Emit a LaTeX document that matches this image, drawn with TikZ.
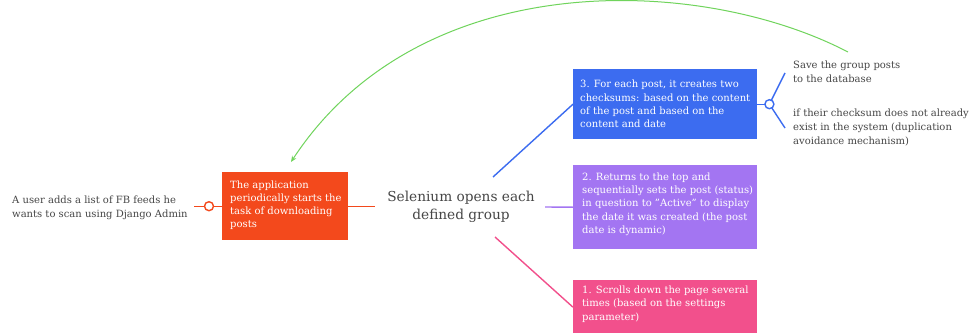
\documentclass[tikz,border=0pt]{standalone}
\usepackage{fontspec}
\setmainfont{DejaVu Serif}
\usetikzlibrary{arrows.meta}
\definecolor{corange}{RGB}{243,73,28}
\definecolor{cblue}{RGB}{60,108,240}
\definecolor{cpurple}{RGB}{163,117,242}
\definecolor{cpink}{RGB}{242,80,140}
\definecolor{cgreen}{RGB}{112,212,92}
\definecolor{ctext}{RGB}{70,70,70}
\begin{document}
\begin{tikzpicture}[x=1pt,y=-1pt,
  boxnode/.style={fill=#1, draw=none, anchor=north west, inner sep=0},
  boxtext/.style={text=white, align=left, anchor=west, inner sep=0,
    font=\fontsize{10}{13.3}\selectfont},
  plain/.style={text=ctext, align=left, inner sep=0,
    font=\fontsize{10}{13.8}\selectfont},
  link/.style={draw=#1, line width=1.4pt},
  knob/.style={circle, draw=#1, line width=1.4pt, fill=white, inner sep=0, minimum size=9pt}
]
\useasboundingbox (0,0) rectangle (969,332);
\fill[white] (0,0) rectangle (969,332);

% boxes
\node[boxnode=corange, minimum width=126pt, minimum height=68pt] (o) at (222,172) {};
\node[boxnode=cblue, minimum width=184pt, minimum height=70pt] (b) at (573,69) {};
\node[boxnode=cpurple, minimum width=184pt, minimum height=84pt] (p) at (573,165) {};
\node[boxnode=cpink, minimum width=184pt, minimum height=54pt] (k) at (573,280) {};

% box texts
\node[boxtext] (ot) at ([xshift=8pt,yshift=1pt]o.west) {The application\\periodically starts the\\task of downloading\\posts};
\node[boxtext] (bt) at ([xshift=7pt]b.west) {3. For each post, it creates two\\checksums: based on the content\\of the post and based on the\\content and date};
\node[boxtext] (pt) at ([xshift=9pt,yshift=3pt]p.west) {2. Returns to the top and\\sequentially sets the post (status)\\in question to \char34 Active\char34{} to display\\the date it was created (the post\\date is dynamic)};
\node[boxtext] (kt) at ([xshift=9pt,yshift=3pt]k.west) {1. Scrolls down the page several\\times (based on the settings\\parameter)};

% plain texts
\node[plain, anchor=west] (u) at (12,208) {A user adds a list of FB feeds he\\wants to scan using Django Admin};
\node[text=ctext, align=center, inner sep=0, font=\fontsize{13.7}{18}\selectfont] (s) at (461,207) {Selenium opens each\\defined group};
\node[plain, anchor=north west] (r1) at (793,61) {Save the group posts\\to the database};
\node[plain, anchor=north west] (r2) at (793,109) {if their checksum does not already\\exist in the system (duplication\\avoidance mechanism)};

% coordinates
\coordinate (ua) at ([xshift=-28pt]o.west);
\coordinate (uc) at ([xshift=-13pt]o.west);
\coordinate (oe) at ([xshift=27pt]o.east);
\coordinate (sb) at (493,177);
\coordinate (sp) at (545,207);
\coordinate (sk) at (495,237);
\coordinate (bc) at ([xshift=12pt]b.east);
\coordinate (r1e) at (785,73);
\coordinate (r2e) at (785,128);
\coordinate (g1) at (848,52);
\coordinate (g2) at (291,162);

% connectors
\draw[link=corange] (ua) -- (o.west);
\node[knob=corange] (ck) at (uc) {};
\draw[link=corange] (o.east) -- (oe);
\draw[link=cblue] (sb) -- (b.west);
\draw[link=cpurple] (sp) -- (p.west);
\draw[link=cpink] (sk) -- (k.west);
\draw[link=cblue] (b.east) -- (bc);
\draw[link=cblue] (r1e) -- (bc) -- (r2e);
\node[knob=cblue] (bk) at (bc) {};

% green return arrow
\draw[cgreen, line width=1pt, -{Stealth[length=6pt,width=5pt]}] (g1) .. controls (700,-25) and (420,-35) .. (g2);
\end{tikzpicture}
\end{document}
